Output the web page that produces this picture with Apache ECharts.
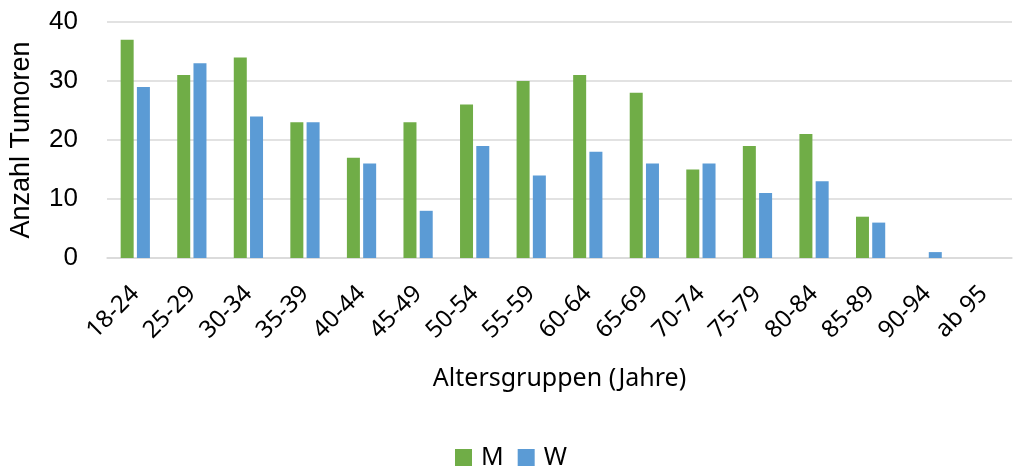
<!DOCTYPE html>
<html>
<head>
<meta charset="utf-8">
<script src="https://cdn.jsdelivr.net/npm/echarts@6/dist/echarts.min.js"></script>
<style>html,body{margin:0;padding:0;background:#fff}#c{width:1013px;height:466px}</style>
</head>
<body>
<div id="c"></div>
<script>
const categories = ["18-24","25-29","30-34","35-39","40-44","45-49","50-54","55-59","60-64","65-69","70-74","75-79","80-84","85-89","90-94","ab 95"];
const seriesM = [37,31,34,23,17,23,26,30,31,28,15,19,21,7,0,0];
const seriesW = [29,33,24,23,16,8,19,14,18,16,16,11,13,6,1,0];
const yTicks = {min:0, max:40, interval:10};

const font = "Noto Sans";
const fontY = "Liberation Sans";
const chart = echarts.init(document.getElementById('c'), null, {renderer:'canvas'});
chart.setOption({
  animation:false,
  textStyle:{fontFamily:font},
  grid:{left:107, right:1, top:22, bottom:208, containLabel:false, outerBoundsMode:'none'},
  legend:{
    top:440, left:450,
    itemWidth:17, itemHeight:17, itemGap:14,
    icon:'rect',
    textStyle:{fontSize:25, color:'#000', fontFamily:font, padding:[0,0,0,4]},
    data:['M','W']
  },
  xAxis:{
    type:'category', data:categories,
    name:'Altersgruppen (Jahre)', nameLocation:'middle', nameGap:108,
    nameTextStyle:{fontSize:25, color:'#000', fontFamily:font},
    axisLine:{show:true, lineStyle:{color:'#d9d9d9', width:1.5}},
    axisTick:{show:false},
    axisLabel:{rotate:45, fontSize:24, color:'#000', margin:32, interval:0, fontFamily:font}
  },
  yAxis:{
    type:'value', min:yTicks.min, max:yTicks.max, interval:yTicks.interval,
    name:'Anzahl Tumoren', nameLocation:'middle', nameGap:72,
    nameTextStyle:{fontSize:27, color:'#000', fontFamily:fontY},
    axisLine:{show:false}, axisTick:{show:false},
    axisLabel:{fontSize:26, color:'#000', margin:29, fontFamily:fontY},
    splitLine:{lineStyle:{color:'#d9d9d9', width:1.5}}
  },
  series:[
    {name:'M', type:'bar', data:seriesM, barWidth:13, barGap:'25%',
     itemStyle:{color:'#70AD47'}},
    {name:'W', type:'bar', data:seriesW, barWidth:13, barGap:'25%',
     itemStyle:{color:'#5B9BD5'}}
  ]
});
</script>
</body>
</html>
